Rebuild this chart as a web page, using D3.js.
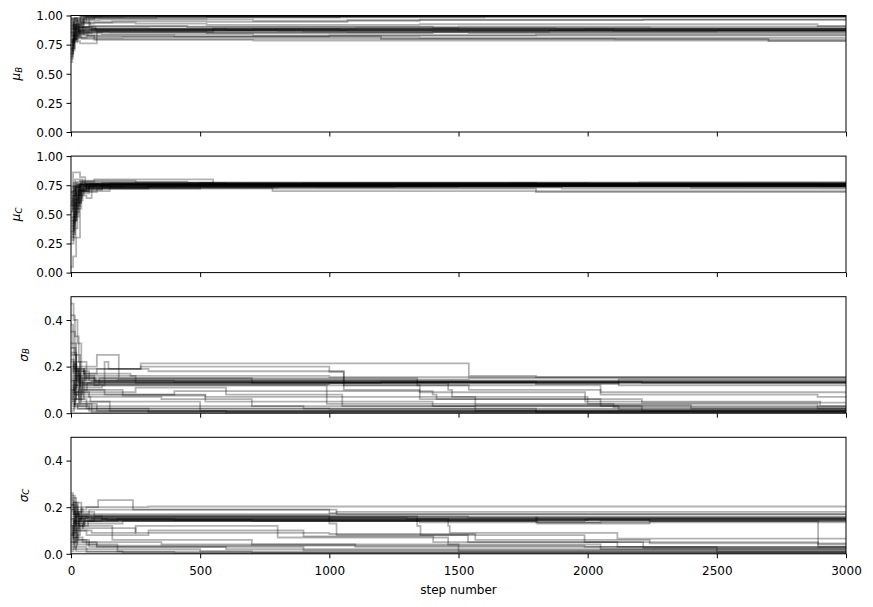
<!DOCTYPE html>
<html>
<head>
<meta charset="utf-8">
<script src="https://cdn.jsdelivr.net/npm/d3@7"></script>
<style>
  body { margin: 0; background: #fff; }
  svg { font-family: "DejaVu Sans", sans-serif; display: block; }
</style>
</head>
<body>
<div id="chart"></div>
<script>
// walker traces: flat lists of [step, value, step, value, ...]; a walker keeps its last value until the next step
const stepDomain = [0, 3000];
const xTicks = [0, 500, 1000, 1500, 2000, 2500, 3000];
const muTicks = [0, 0.25, 0.5, 0.75, 1];
const sigmaTicks = [0, 0.2, 0.4];
const paramNames = [['μ', 'B'], ['μ', 'C'], ['σ', 'B'], ['σ', 'C']];

const muBWalkers = [
  [0,.60, 5,.72, 12,.85, 30,.95, 60,.995],
  [0,.68, 8,.80, 20,.92, 50,.99],
  [0,.93, 15,.98, 40,1.0],
  [0,.86, 10,.95, 35,.99, 200,.997],
  [0,.80, 25,.90, 70,.975, 525,.985, 1040,.995],
  [0,.97, 20,.96, 110,.965, 705,.955, 1350,.965],
  [0,.82, 18,.78, 35,.76, 100,.86, 525,.85, 1400,.86, 1850,.87],
  [0,.75, 10,.88, 45,.89, 300,.885],
  [0,.90, 30,.87, 80,.88, 1040,.875],
  [0,.72, 15,.84, 50,.875, 705,.88, 2100,.87],
  [0,.88, 20,.93, 90,.94, 250,.93, 525,.92, 1350,.925, 2890,.91],
  [0,.84, 25,.81, 60,.83, 400,.82, 1000,.83],
  [0,.77, 12,.82, 40,.80, 700,.80, 2105,.795],
  [0,.92, 22,.86, 150,.855, 1540,.85],
  [0,.86, 18,.90, 55,.905, 1400,.895, 2240,.89],
  [0,.65, 8,.77, 25,.83, 90,.79, 705,.785],
  [0,.95, 12,.91, 40,.94, 160,.95, 525,.945, 1070,.96, 2215,.965],
  [0,.89, 35,.85, 120,.84, 705,.83, 1800,.835],
  [0,.70, 14,.90, 45,.98, 330,.99],
  [0,.83, 30,.88, 100,.875, 1990,.88],
  [0,.98, 25,.94, 75,.91, 450,.90, 1500,.905],
  [0,.79, 20,.85, 80,.865, 1070,.86],
  [0,.91, 15,.87, 60,.86, 550,.89, 1875,.885],
  [0,.74, 10,.86, 35,.81, 200,.815, 1350,.81],
  [0,.63, 6,.78, 14,.92, 28,.89, 48,.97, 90,.998],
  [0,.88, 9,.97, 22,.92, 38,.99, 120,1.0],
  [0,.71, 7,.83, 18,.88, 33,.86, 70,.875, 800,.87],
  [0,.94, 11,.89, 26,.87, 52,.885, 600,.88, 1500,.875],
  [0,.67, 9,.79, 21,.86, 44,.90, 95,.87, 900,.865, 2500,.87],
  [0,.85, 13,.80, 30,.84, 65,.82, 1200,.80, 2700,.78],
  [0,.78, 10,.92, 24,.97, 56,.985, 1600,.99],
  [0,.96, 16,.93, 34,.90, 80,.885, 1100,.89]
];

const muCWalkers = [
  [0,.05, 8,.14, 20,.30, 35,.70, 70,.75],
  [0,.28, 10,.45, 22,.62, 45,.74],
  [0,.50, 12,.68, 30,.76],
  [0,.72, 8,.86, 35,.82, 55,.74, 400,.75],
  [0,.40, 15,.60, 40,.72, 120,.77, 550,.76],
  [0,.62, 20,.78, 90,.80, 550,.76],
  [0,.55, 25,.66, 60,.64, 80,.72, 300,.74],
  [0,.35, 12,.52, 30,.70, 150,.73, 780,.70],
  [0,.68, 18,.74, 200,.755],
  [0,.45, 20,.70, 60,.76, 900,.765],
  [0,.58, 10,.74, 40,.78, 450,.77, 1800,.76],
  [0,.30, 18,.55, 40,.69, 100,.72, 1800,.69],
  [0,.74, 25,.73, 300,.745, 1300,.75],
  [0,.52, 8,.63, 28,.75, 650,.76, 2900,.745],
  [0,.60, 30,.71, 120,.735, 1500,.74],
  [0,.42, 14,.66, 35,.79, 250,.775],
  [0,.66, 22,.76, 1100,.755],
  [0,.33, 16,.58, 32,.73, 800,.74, 2400,.73],
  [0,.48, 20,.72, 500,.77, 2200,.775],
  [0,.57, 35,.75, 150,.765],
  [0,.64, 12,.71, 60,.73, 1900,.72],
  [0,.38, 25,.67, 50,.75],
  [0,.70, 15,.80, 45,.76, 600,.75],
  [0,.25, 10,.48, 30,.68, 70,.745],
  [0,.44, 9,.58, 19,.69, 36,.76, 110,.755],
  [0,.53, 7,.66, 17,.73, 40,.77, 600,.765, 2000,.76],
  [0,.36, 11,.50, 24,.64, 42,.72, 85,.75, 1400,.755],
  [0,.61, 6,.70, 16,.75, 50,.745, 950,.74],
  [0,.47, 13,.62, 27,.71, 58,.76, 700,.75],
  [0,.69, 10,.77, 26,.74, 75,.76, 1700,.765],
  [0,.31, 9,.44, 21,.60, 39,.70, 66,.735, 1250,.745],
  [0,.59, 14,.73, 33,.755, 2600,.75]
];

const sigmaBWalkers = [
  [0,.47, 10,.40, 25,.30, 40,.18, 70,.14, 400,.135],
  [0,.42, 15,.33, 30,.22, 60,.15, 180,.145, 1540,.15],
  [0,.05, 10,.12, 30,.20, 100,.25, 185,.15, 700,.14],
  [0,.10, 20,.16, 50,.19, 270,.214, 1540,.16, 1800,.155],
  [0,.20, 15,.08, 45,.12, 130,.22, 145,.19, 300,.18, 1056,.10, 1350,.06, 2050,.03],
  [0,.15, 25,.13, 80,.135],
  [0,.02, 15,.06, 50,.10, 200,.076, 520,.05, 1400,.03, 2120,.015],
  [0,.30, 20,.16, 90,.12, 990,.08, 1050,.03, 2210,.01],
  [0,.12, 30,.04, 80,.02, 500,.01, 1800,.005],
  [0,.08, 12,.14, 60,.16, 250,.13, 1460,.10, 1475,.07, 2000,.04, 2890,.02],
  [0,.25, 20,.18, 55,.14, 700,.13, 2120,.12],
  [0,.18, 40,.05, 150,.03, 900,.02],
  [0,.14, 18,.22, 35,.12, 110,.15, 1340,.12, 1350,.09, 1990,.05, 2900,.03],
  [0,.06, 20,.09, 70,.07, 350,.06, 700,.03, 1565,.01],
  [0,.22, 12,.19, 50,.17, 230,.16, 1000,.155],
  [0,.11, 22,.15, 95,.135, 1800,.13],
  [0,.16, 10,.10, 40,.08, 400,.095, 1400,.08, 1415,.06, 2210,.045],
  [0,.35, 15,.25, 35,.11, 120,.12, 2050,.08, 2890,.07],
  [0,.04, 25,.02, 300,.005],
  [0,.09, 35,.17, 100,.19, 270,.20, 1000,.178, 1056,.12, 1540,.10, 2050,.09],
  [0,.13, 20,.06, 60,.02, 1000,.015],
  [0,.19, 30,.13, 1800,.125, 2120,.145],
  [0,.07, 15,.03, 150,.01],
  [0,.26, 20,.14, 45,.09, 250,.11, 600,.08, 990,.04, 2100,.025],
  [0,.38, 8,.28, 18,.17, 34,.10, 62,.13, 140,.13, 1200,.135],
  [0,.01, 12,.04, 26,.02, 80,.004],
  [0,.17, 9,.21, 21,.12, 44,.15, 90,.14, 1340,.135, 2210,.13],
  [0,.10, 7,.05, 19,.09, 37,.04, 100,.01, 600,.003],
  [0,.23, 11,.16, 28,.19, 52,.10, 130,.08, 520,.07, 1565,.035, 2400,.02],
  [0,.03, 14,.11, 30,.07, 75,.05, 500,.02, 1800,.008],
  [0,.28, 10,.20, 24,.15, 48,.125, 1000,.13],
  [0,.14, 16,.08, 33,.03, 70,.01]
];

const sigmaCWalkers = [
  [0,.25, 15,.22, 40,.16, 120,.15, 1000,.152],
  [0,.24, 20,.19, 60,.20, 105,.23, 240,.19, 1000,.175, 1028,.18],
  [0,.10, 12,.18, 45,.20, 300,.203],
  [0,.05, 18,.12, 50,.15, 400,.145, 2240,.14],
  [0,.20, 25,.14, 90,.16, 1340,.12, 1353,.08, 1988,.05, 2892,.03],
  [0,.15, 10,.08, 35,.13, 200,.14, 1800,.155],
  [0,.12, 20,.17, 70,.19, 1000,.19, 1028,.17],
  [0,.02, 15,.06, 60,.04, 180,.01, 700,.005],
  [0,.18, 30,.10, 80,.09, 250,.12, 800,.07, 1460,.04, 2050,.02],
  [0,.08, 14,.14, 40,.16, 1000,.13, 1028,.08, 1537,.05, 2115,.03],
  [0,.22, 18,.15, 55,.155, 1805,.13, 2240,.14],
  [0,.14, 25,.05, 100,.03, 600,.02, 1500,.01],
  [0,.06, 10,.10, 60,.08, 300,.10, 900,.075, 1402,.05, 2215,.025],
  [0,.17, 20,.12, 50,.14, 1350,.135, 2050,.14, 2892,.04],
  [0,.11, 30,.15, 140,.145],
  [0,.03, 20,.01, 200,.004],
  [0,.19, 12,.13, 45,.11, 250,.09, 1000,.085, 1565,.06, 2240,.045],
  [0,.09, 25,.04, 100,.035, 1988,.03],
  [0,.23, 10,.17, 35,.14, 180,.15, 1460,.12, 1466,.09, 2115,.065],
  [0,.13, 15,.20, 40,.17, 300,.17],
  [0,.07, 20,.02, 500,.01],
  [0,.16, 30,.18, 90,.16, 1537,.155],
  [0,.04, 12,.07, 45,.05, 350,.04, 1100,.03, 2500,.02],
  [0,.21, 25,.16, 65,.145, 700,.14, 1988,.145],
  [0,.26, 8,.19, 19,.13, 37,.16, 80,.15],
  [0,.01, 10,.05, 24,.03, 60,.008, 400,.003],
  [0,.12, 9,.07, 22,.11, 46,.14, 120,.145, 2000,.15],
  [0,.19, 11,.22, 26,.15, 54,.12, 160,.06, 700,.04, 1500,.02, 2500,.008],
  [0,.08, 7,.12, 18,.16, 38,.155, 1300,.15],
  [0,.15, 13,.10, 29,.06, 70,.03, 900,.015],
  [0,.05, 9,.09, 21,.14, 42,.165, 1000,.16],
  [0,.21, 14,.17, 31,.12, 66,.14, 1800,.135]
];

const panels = [
  { name: paramNames[0], walkers: muBWalkers, domain: [0, 1], ticks: muTicks, fmt: d3.format('.2f') },
  { name: paramNames[1], walkers: muCWalkers, domain: [0, 1], ticks: muTicks, fmt: d3.format('.2f') },
  { name: paramNames[2], walkers: sigmaBWalkers, domain: [0, 0.5], ticks: sigmaTicks, fmt: d3.format('.1f') },
  { name: paramNames[3], walkers: sigmaCWalkers, domain: [0, 0.5], ticks: sigmaTicks, fmt: d3.format('.1f') }
];

const W = 873, H = 607;
const left = 71, right = 846;
const firstTop = 15.5, rowStep = 140.6, panelH = 116.5;
const labelBaseline = [20, 20, 27.5, 27.5];

const svg = d3.select('#chart').append('svg')
  .attr('width', W).attr('height', H);

const x = d3.scaleLinear().domain(stepDomain).range([left, right]);

const toPoints = (w) => {
  const pts = d3.range(0, w.length, 2).map(i => [w[i], w[i + 1]]);
  pts.push([stepDomain[1], w[w.length - 1]]);
  return pts;
};

panels.forEach((p, i) => {
  const top = firstTop + i * rowStep;
  const bottom = top + panelH;
  const y = d3.scaleLinear().domain(p.domain).range([bottom, top]);

  const clipId = `clip-${i}`;
  svg.append('clipPath').attr('id', clipId)
    .append('rect')
    .attr('x', left).attr('y', top)
    .attr('width', right - left).attr('height', panelH);

  const line = d3.line()
    .x(d => x(d[0]))
    .y(d => y(d[1]))
    .curve(d3.curveStepAfter);

  svg.append('g').attr('clip-path', `url(#${clipId})`)
    .selectAll('path')
    .data(p.walkers.map(toPoints))
    .enter().append('path')
    .attr('d', line)
    .attr('fill', 'none')
    .attr('stroke', '#000')
    .attr('stroke-opacity', 0.3)
    .attr('stroke-width', 1.8);

  // y axis
  const yAxis = svg.append('g')
    .attr('transform', `translate(${left},0)`)
    .call(d3.axisLeft(y).tickValues(p.ticks).tickFormat(p.fmt).tickSize(4.5).tickPadding(3.5));
  yAxis.select('.domain').remove();
  yAxis.selectAll('text')
    .attr('font-family', '"DejaVu Sans", sans-serif')
    .attr('font-size', 12).attr('fill', '#000').attr('dy', '0.36em');
  yAxis.selectAll('line').attr('stroke', '#000').attr('stroke-width', 1);

  // x axis ticks on every panel, labels only on the last one
  const last = i === panels.length - 1;
  const xAxis = svg.append('g')
    .attr('transform', `translate(0,${bottom})`)
    .call(d3.axisBottom(x).tickValues(xTicks).tickFormat(last ? d3.format('d') : '').tickSize(4.5).tickPadding(3.5));
  xAxis.select('.domain').remove();
  xAxis.selectAll('line').attr('stroke', '#000').attr('stroke-width', 1);
  xAxis.selectAll('text')
    .attr('font-family', '"DejaVu Sans", sans-serif')
    .attr('font-size', 12).attr('fill', '#000')
    .attr('y', 21).attr('dy', 0);

  // frame
  svg.append('rect')
    .attr('x', left).attr('y', top)
    .attr('width', right - left).attr('height', panelH)
    .attr('fill', 'none').attr('stroke', '#000').attr('stroke-width', 1);

  // y label
  const lab = svg.append('text')
    .attr('transform', `translate(${labelBaseline[i]},${(top + bottom) / 2}) rotate(-90)`)
    .attr('text-anchor', 'middle')
    .attr('font-size', 12)
    .attr('font-style', 'italic')
    .attr('fill', '#000');
  lab.append('tspan').text(p.name[0]);
  lab.append('tspan').attr('font-size', 8.5).attr('dy', '0.22em').text(p.name[1]);
});

svg.append('text')
  .attr('x', (left + right) / 2)
  .attr('y', 594)
  .attr('text-anchor', 'middle')
  .attr('font-size', 12)
  .attr('fill', '#000')
  .text('step number');
</script>
</body>
</html>
